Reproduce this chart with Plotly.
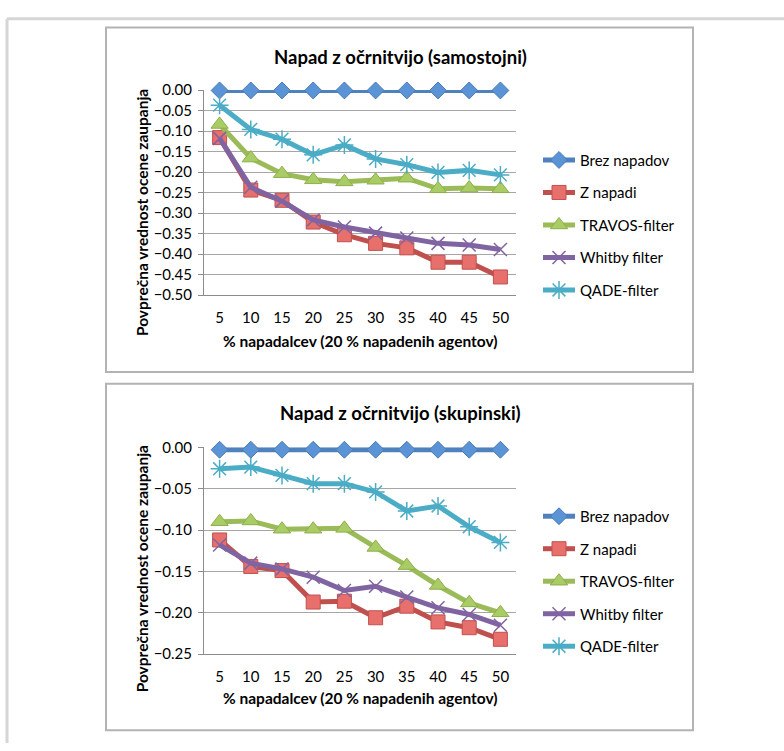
import plotly.graph_objects as go

W, H = 784, 751
FONT = "Lato"

categories = ["5", "10", "15", "20", "25", "30", "35", "40", "45", "50"]
series_names = ["Brez napadov", "Z napadi", "TRAVOS-filter", "Whitby filter", "QADE-filter"]

# Chart 1: samostojni
s1_brez = [-0.001] * 10
s1_z = [-0.116, -0.244, -0.269, -0.322, -0.353, -0.374, -0.385, -0.420, -0.420, -0.456]
s1_travos = [-0.084, -0.166, -0.204, -0.219, -0.224, -0.220, -0.215, -0.241, -0.239, -0.241]
s1_whitby = [-0.118, -0.237, -0.271, -0.317, -0.334, -0.349, -0.361, -0.374, -0.378, -0.389]
s1_qade = [-0.037, -0.096, -0.120, -0.158, -0.134, -0.168, -0.182, -0.201, -0.196, -0.207]

# Chart 2: skupinski
s2_brez = [-0.003] * 10
s2_z = [-0.112, -0.144, -0.149, -0.187, -0.186, -0.206, -0.192, -0.211, -0.218, -0.232]
s2_travos = [-0.090, -0.089, -0.099, -0.099, -0.098, -0.121, -0.143, -0.167, -0.188, -0.200]
s2_whitby = [-0.118, -0.140, -0.147, -0.157, -0.173, -0.168, -0.181, -0.194, -0.202, -0.215]
s2_qade = [-0.026, -0.024, -0.034, -0.044, -0.044, -0.054, -0.077, -0.071, -0.096, -0.115]

title1 = "Napad z očrnitvijo (samostojni)"
title2 = "Napad z očrnitvijo (skupinski)"
y_title = "Povprečna vrednost ocene zaupanja"
x_title = "% napadalcev (20 % napadenih agentov)"

styles = [
    dict(line_color="#4F81BD", marker=dict(symbol="diamond", size=13, color="#5B94D6", line=dict(color="#4A7BB5", width=1))),
    dict(line_color="#C0504D", marker=dict(symbol="square", size=14, color="#E8706C", line=dict(color="#C0504D", width=1))),
    dict(line_color="#9BBB59", marker=dict(symbol="triangle-up", size=15, color="#A9CC64", line=dict(color="#8DAF4B", width=1))),
    dict(line_color="#8064A2", marker=dict(symbol="x-thin-open", size=13, color="#8064A2", line=dict(color="#8064A2", width=1.5))),
    dict(line_color="#4BACC6", marker=dict(symbol="asterisk-open", size=15, color="#4BACC6", line=dict(color="#4BACC6", width=1.5))),
]


def px_x(p):
    return p / W


def px_y(p):
    return 1 - p / H


fig = go.Figure()

for sets, xa, ya, leg in [
    ([s1_brez, s1_z, s1_travos, s1_whitby, s1_qade], "x", "y", "legend"),
    ([s2_brez, s2_z, s2_travos, s2_whitby, s2_qade], "x2", "y2", "legend2"),
]:
    for name, vals, st in zip(series_names, sets, styles):
        fig.add_trace(go.Scatter(
            x=categories, y=vals, name=name, mode="lines+markers",
            line=dict(color=st["line_color"], width=5),
            marker=st["marker"], xaxis=xa, yaxis=ya, legend=leg,
            legendgroup=name + leg, cliponaxis=False,
        ))

axis_common = dict(
    showline=True, linecolor="#8C8C8C", linewidth=1,
    tickfont=dict(family=FONT, size=15, color="#000000"),
    zeroline=False,
)

fig.update_layout(
    width=W, height=H,
    margin=dict(l=0, r=0, t=0, b=0),
    paper_bgcolor="white", plot_bgcolor="white",
    font=dict(family=FONT, color="#000000"),
    xaxis=dict(domain=[px_x(204), px_x(516)], anchor="y", type="category",
               range=[-0.5, 9.5], showgrid=False, ticks="", ticklabelstandoff=9, **axis_common),
    yaxis=dict(domain=[px_y(292), px_y(82)], anchor="x", range=[-0.5, 0.0],
               dtick=0.05, tickformat=".2f", showgrid=True, gridcolor="#A6A6A6",
               gridwidth=1, ticks="outside", ticklen=5, tickcolor="#8C8C8C",
               ticklabelstandoff=3, **axis_common),
    xaxis2=dict(domain=[px_x(204), px_x(516)], anchor="y2", type="category",
                range=[-0.5, 9.5], showgrid=False, ticks="", ticklabelstandoff=9, **axis_common),
    yaxis2=dict(domain=[px_y(660), px_y(448)], anchor="x2", range=[-0.25, 0.0],
                dtick=0.05, tickformat=".2f", showgrid=True, gridcolor="#A6A6A6",
                gridwidth=1, ticks="outside", ticklen=5, tickcolor="#8C8C8C",
                ticklabelstandoff=3, **axis_common),
    legend=dict(x=px_x(538), y=px_y(137), xanchor="left", yanchor="top",
                font=dict(family=FONT, size=15), traceorder="grouped",
                tracegroupgap=10, bgcolor="rgba(0,0,0,0)", itemwidth=32),
    legend2=dict(x=px_x(538), y=px_y(502), xanchor="left", yanchor="top",
                 font=dict(family=FONT, size=15), traceorder="grouped",
                 tracegroupgap=10, bgcolor="rgba(0,0,0,0)", itemwidth=32),
    showlegend=True,
)

# frames
fig.add_shape(type="line", xref="paper", yref="paper", x0=px_x(7), x1=1.0, y0=px_y(9), y1=px_y(9),
              line=dict(color="#D6D6D6", width=3))
fig.add_shape(type="line", xref="paper", yref="paper", x0=px_x(7), x1=px_x(7), y0=px_y(9), y1=0.0,
              line=dict(color="#D6D6D6", width=3))
for top, bot in [(18, 371), (383, 738)]:
    fig.add_shape(type="rect", xref="paper", yref="paper", x0=px_x(106), x1=px_x(693),
                  y0=px_y(bot), y1=px_y(top), line=dict(color="#B3B3B3", width=2))

# titles
for t, yc in [(title1, 48), (title2, 413)]:
    fig.add_annotation(text=f"<b>{t}</b>", xref="paper", yref="paper", x=px_x(400), y=px_y(yc),
                       showarrow=False, font=dict(family=FONT, size=18.5), xanchor="center", yanchor="middle")
for yc in [208, 573]:
    fig.add_annotation(text=f"<b>{y_title}</b>", xref="paper", yref="paper", x=px_x(142), y=px_y(yc),
                       showarrow=False, textangle=-90, font=dict(family=FONT, size=15.5),
                       xanchor="center", yanchor="middle")
for yc in [339, 705]:
    fig.add_annotation(text=f"<b>{x_title}</b>", xref="paper", yref="paper", x=px_x(360), y=px_y(yc),
                       showarrow=False, font=dict(family=FONT, size=15.5), xanchor="center", yanchor="middle")

fig.write_html("out.html")
